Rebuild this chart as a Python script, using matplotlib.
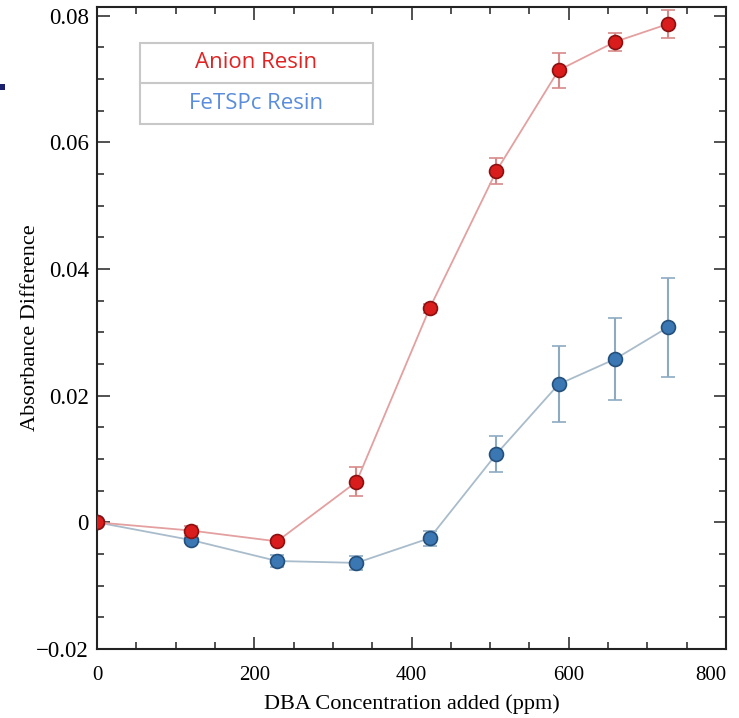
import matplotlib
matplotlib.use("Agg")
import matplotlib.pyplot as plt
from matplotlib.ticker import MultipleLocator
from matplotlib.patches import Rectangle

# DBA concentration (ppm)
conc = [0, 120, 229, 330, 423, 508, 587, 659, 726]

# anion resin
anion = [0.0, -0.0013, -0.003, 0.0064, 0.0338, 0.0555, 0.0714, 0.0759, 0.0787]
anion_err = [0.0, 0.0008, 0.0003, 0.0023, 0.0007, 0.002, 0.0028, 0.0014, 0.0022]

# FeTSPc resin
fetspc = [0.0, -0.0028, -0.0061, -0.0064, -0.0025, 0.0108, 0.0218, 0.0258, 0.0308]
fetspc_err = [0.0, 0.0004, 0.001, 0.0011, 0.0012, 0.0028, 0.006, 0.0065, 0.0078]

xticks = [0, 200, 400, 600, 800]
yticks = [-0.02, 0, 0.02, 0.04, 0.06, 0.08]
ytick_labels = ['\u22120.02', '0', '0.02', '0.04', '0.06', '0.08']

plt.rcParams['font.family'] = ['Liberation Serif', 'DejaVu Serif']

fig = plt.figure(figsize=(7.39, 7.18), dpi=100)
ax = fig.add_axes([0.1313, 0.0961, 0.8511, 0.8942])

#blue series first so red sits on top
ax.errorbar(conc, fetspc, yerr=fetspc_err, fmt='-o', color='#a9bccb', lw=1.3,
            ecolor='#8eaac2', elinewidth=1.5, capsize=5, capthick=1.5,
            markersize=10, markerfacecolor='#3b78b3', markeredgecolor='#24507c',
            markeredgewidth=1.2, zorder=2)
ax.errorbar(conc, anion, yerr=anion_err, fmt='-o', color='#e4a0a0', lw=1.3,
            ecolor='#d88a8a', elinewidth=1.5, capsize=5, capthick=1.5,
            markersize=10, markerfacecolor='#d91c1c', markeredgecolor='#8c1010',
            markeredgewidth=1.2, zorder=3)

ax.set_xlim(0, 800)
ax.set_ylim(-0.02, 0.0814)
ax.xaxis.set_minor_locator(MultipleLocator(50))
ax.yaxis.set_minor_locator(MultipleLocator(0.005))
ax.tick_params(which='both', direction='in', top=True, right=True, colors='#333333',
               labelcolor='black', width=1.2)
ax.tick_params(which='major', length=9)
ax.tick_params(which='minor', length=5)
ax.tick_params(axis='x', labelsize=15, pad=12)
ax.tick_params(axis='y', labelsize=16.5, pad=6)
ax.set_xticks(xticks)
ax.set_xticklabels([str(t) for t in xticks])
ax.set_yticks(yticks)
ax.set_yticklabels(ytick_labels)
#last x label would be clipped at the figure edge
ax.get_xticklabels()[-1].set_horizontalalignment('right')
for s in ax.spines.values():
    s.set_linewidth(1.5)
    s.set_color('#222222')

ax.set_xlabel('DBA Concentration added (ppm)', fontsize=16, labelpad=7)
ax.set_ylabel('Absorbance Difference', fontsize=16, labelpad=-3)

#legend box drawn as a two-row table
lx0, lx1 = 140 / 739, 373 / 739
ly0, lym, ly1 = 1 - 124 / 718, 1 - 83 / 718, 1 - 43 / 718
fig.patches.append(Rectangle((lx0, ly0), lx1 - lx0, ly1 - ly0, transform=fig.transFigure,
                             facecolor='white', edgecolor='#c8c8c8', lw=1.5, zorder=5))
fig.lines.append(plt.Line2D([lx0, lx1], [lym, lym], transform=fig.transFigure,
                            color='#c8c8c8', lw=1.5, zorder=6))
fig.text((lx0 + lx1) / 2, (lym + ly1) / 2, 'Anion Resin', color='#e02424', fontsize=16,
         family=['Open Sans', 'DejaVu Sans'], ha='center', va='center', zorder=7)
fig.text((lx0 + lx1) / 2, (ly0 + lym) / 2, 'FeTSPc Resin', color='#5a8ddb', fontsize=16,
         family=['Open Sans', 'DejaVu Sans'], ha='center', va='center', zorder=7)

#small dark mark at left edge from the slide
fig.patches.append(Rectangle((0, 1 - 90 / 718), 5 / 739, 6 / 718, transform=fig.transFigure,
                             facecolor='#1a1f6e', edgecolor='none'))

fig.savefig('out.png', dpi=100)
